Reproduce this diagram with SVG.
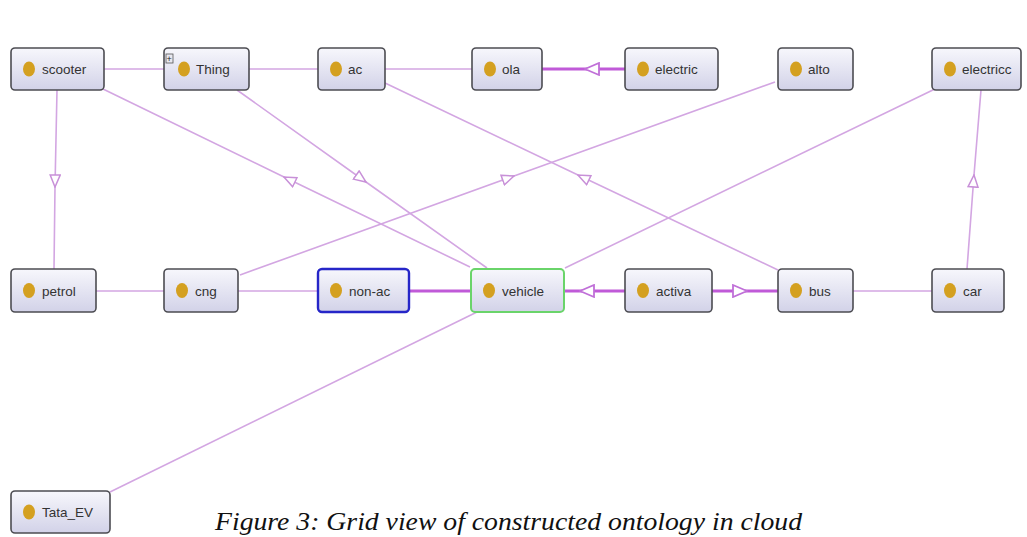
<svg xmlns="http://www.w3.org/2000/svg" width="1027" height="537" viewBox="0 0 1027 537">
<defs>
<linearGradient id="g" x1="0" y1="0" x2="0" y2="1">
<stop offset="0" stop-color="#f7f7fc"/>
<stop offset="1" stop-color="#d2d2e8"/>
</linearGradient>
<marker id="ar" viewBox="0 0 14 12" refX="13" refY="6" markerWidth="14" markerHeight="12" markerUnits="userSpaceOnUse" orient="auto">
<path d="M1,1 L13,6 L1,11 Z" fill="#fff" stroke="#c890d8" stroke-width="1.5"/>
</marker>
<marker id="arb" viewBox="0 0 16 14" refX="15" refY="7" markerWidth="16" markerHeight="14" markerUnits="userSpaceOnUse" orient="auto">
<path d="M1,1 L15,7 L1,13 Z" fill="#fff" stroke="#c070d8" stroke-width="1.8"/>
</marker>
</defs>
<style>
.e{fill:none;stroke:#d3a6e2;stroke-width:1.6}
.t{fill:none;stroke:#c05ad8;stroke-width:3.2}
.ea{marker-mid:url(#ar)}
.ta{marker-mid:url(#arb)}
.n rect.b{fill:url(#g);stroke:#4c4c52;stroke-width:1.6}
.n ellipse{fill:#d4a020}
.n text{font-family:"Liberation Sans",Arial,sans-serif;font-size:13.5px;fill:#333}
.cap{font-family:"Liberation Serif","Times New Roman",serif;font-style:italic;font-size:26px;fill:#111}
</style>
<rect width="1027" height="537" fill="#fff"/>
<g id="connectors">
<line class="e" x1="104" y1="69" x2="164" y2="69"/>
<line class="e" x1="249" y1="69" x2="318" y2="69"/>
<line class="e" x1="385" y1="69" x2="472" y2="69"/>
<path class="t ta" d="M625,69 L585,69 L542,69"/>
<path class="e ea" d="M57,90 L55,187 L54,269"/>
<path class="e ea" d="M470,267 L284,177 L103,89"/>
<path class="e ea" d="M237,90 L366,182 L487,268"/>
<path class="e ea" d="M778,270 L578,175 L385,83"/>
<path class="e ea" d="M240,275 L514,176 L775,82"/>
<line class="e" x1="937" y1="88" x2="565" y2="268"/>
<path class="e ea" d="M967,269 L974,175 L981,90"/>
<line class="e" x1="96" y1="291" x2="164" y2="291"/>
<line class="e" x1="238" y1="291" x2="318" y2="291"/>
<line class="t" x1="409" y1="291" x2="471" y2="291"/>
<path class="t ta" d="M625,291 L580,291 L564,291"/>
<path class="t ta" d="M712,291 L747,291 L778,291"/>
<line class="e" x1="853" y1="291" x2="932" y2="291"/>
<line class="e" x1="477" y1="312" x2="110" y2="492"/>
</g>
<g id="n-scooter" class="n"><rect class="b" x="11" y="48" width="93" height="42" rx="4"/><ellipse cx="29" cy="69" rx="6" ry="7.5"/><text x="42" y="74">scooter</text></g>
<g id="n-Thing" class="n"><rect class="b" x="164" y="48" width="85" height="42" rx="4"/><rect x="166" y="54" width="7" height="9" fill="#e8e8f0" stroke="#555" stroke-width="0.8"/><text x="166.5" y="62" style="font-size:9px;fill:#222">+</text><ellipse cx="184" cy="69" rx="6" ry="7.5"/><text x="196" y="74">Thing</text></g>
<g id="n-ac" class="n"><rect class="b" x="318" y="48" width="67" height="42" rx="4"/><ellipse cx="336" cy="69" rx="6" ry="7.5"/><text x="348" y="74">ac</text></g>
<g id="n-ola" class="n"><rect class="b" x="472" y="48" width="70" height="42" rx="4"/><ellipse cx="490" cy="69" rx="6" ry="7.5"/><text x="502" y="74">ola</text></g>
<g id="n-electric" class="n"><rect class="b" x="625" y="48" width="93" height="42" rx="4"/><ellipse cx="643" cy="69" rx="6" ry="7.5"/><text x="655" y="74">electric</text></g>
<g id="n-alto" class="n"><rect class="b" x="778" y="48" width="75" height="42" rx="4"/><ellipse cx="796" cy="69" rx="6" ry="7.5"/><text x="808" y="74">alto</text></g>
<g id="n-electricc" class="n"><rect class="b" x="932" y="48" width="89" height="42" rx="4"/><ellipse cx="950" cy="69" rx="6" ry="7.5"/><text x="962" y="74">electricc</text></g>
<g id="n-petrol" class="n"><rect class="b" x="11" y="269" width="85" height="43" rx="4"/><ellipse cx="29" cy="290.5" rx="6" ry="7.5"/><text x="42" y="295.5">petrol</text></g>
<g id="n-cng" class="n"><rect class="b" x="164" y="269" width="74" height="43" rx="4"/><ellipse cx="182" cy="290.5" rx="6" ry="7.5"/><text x="195" y="295.5">cng</text></g>
<g id="n-non-ac" class="n"><rect class="b" x="318" y="269" width="91" height="43" rx="4" style="stroke:#2626c8;stroke-width:2.4"/><ellipse cx="336" cy="290.5" rx="6" ry="7.5"/><text x="349" y="295.5">non-ac</text></g>
<g id="n-vehicle" class="n"><rect class="b" x="471" y="269" width="93" height="43" rx="4" style="stroke:#6ad46a;stroke-width:2"/><ellipse cx="489" cy="290.5" rx="6" ry="7.5"/><text x="502" y="295.5">vehicle</text></g>
<g id="n-activa" class="n"><rect class="b" x="625" y="269" width="87" height="43" rx="4"/><ellipse cx="643" cy="290.5" rx="6" ry="7.5"/><text x="656" y="295.5">activa</text></g>
<g id="n-bus" class="n"><rect class="b" x="778" y="269" width="75" height="43" rx="4"/><ellipse cx="796" cy="290.5" rx="6" ry="7.5"/><text x="809" y="295.5">bus</text></g>
<g id="n-car" class="n"><rect class="b" x="932" y="269" width="72" height="43" rx="4"/><ellipse cx="950" cy="290.5" rx="6" ry="7.5"/><text x="963" y="295.5">car</text></g>
<g id="n-Tata_EV" class="n"><rect class="b" x="11" y="491" width="99" height="42" rx="4"/><ellipse cx="29" cy="512" rx="6" ry="7.5"/><text x="42" y="517">Tata_EV</text></g>
<text class="cap" x="215" y="530" textLength="587" lengthAdjust="spacingAndGlyphs">Figure 3: Grid view of constructed ontology in cloud</text>
</svg>
